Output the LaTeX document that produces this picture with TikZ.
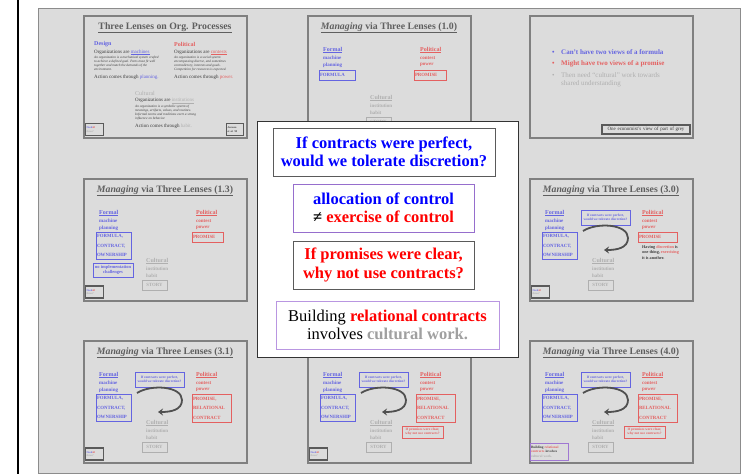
\documentclass[tikz,border=0pt]{standalone}
\usepackage{fontspec}
\setmainfont{Liberation Serif}
\usetikzlibrary{arrows.meta}
\definecolor{bgGrey}{RGB}{220,220,220}
\definecolor{outerLine}{RGB}{140,140,140}
\definecolor{frameGrey}{RGB}{128,128,128}
\definecolor{boxDark}{RGB}{90,90,90}
\definecolor{tBlue}{RGB}{100,100,225}
\definecolor{tRed}{RGB}{228,96,96}
\definecolor{tLight}{RGB}{175,175,175}
\definecolor{tTitle}{RGB}{95,95,95}
\definecolor{tDark}{RGB}{60,60,60}
\definecolor{tPurple}{RGB}{160,120,210}
\definecolor{arrowGrey}{RGB}{80,80,80}
\definecolor{ovBlue}{RGB}{0,0,255}
\definecolor{ovRed}{RGB}{255,0,0}
\definecolor{ovGrey}{RGB}{160,160,160}
\definecolor{ovPurple}{RGB}{150,110,205}
\definecolor{ovPurpleLight}{RGB}{185,150,225}
\newcommand{\fsz}[2]{\fontsize{#1}{#2}\selectfont}
\tikzset{
  slideframe/.style={draw=frameGrey, line width=1.5pt, fill=bgGrey, minimum width=163pt, minimum height=122pt, inner sep=0pt, anchor=north west},
  lenstitle/.style={inner sep=0pt, text=tTitle, font=\fsz{9.8}{11}\bfseries},
  lbl/.style={anchor=west, inner sep=0pt, font=\fsz{5}{6}\bfseries},
  head/.style={anchor=west, inner sep=0pt, font=\fsz{6}{7}\bfseries},
  plain/.style={anchor=west, inner sep=0pt, font=\fsz{5}{6}, text=tDark},
  para/.style={anchor=north west, inner sep=0pt, align=left, font=\fsz{3.4}{3.8}\itshape, text=tDark},
  tbox/.style={draw, line width=0.9pt, inner sep=1pt, font=\fsz{4.8}{9.5}\bfseries, align=left},
  needbox/.style={draw=boxDark, line width=1.3pt, text width=16pt, minimum height=12pt, inner sep=1pt, font=\fsz{2.7}{3.3}\bfseries, align=left},
  curvearrow/.style={draw=arrowGrey, line width=1.8pt, -{Stealth[length=5pt,width=7pt]}},
  ovbox/.style={draw, line width=0.9pt, inner sep=0pt, align=center, font=\fsz{16.5}{18.5}\bfseries},
  bullet/.style={anchor=west, inner sep=0pt, font=\fsz{7}{8}\bfseries},
}
\newcommand{\LensCols}[1]{%
  \node[slideframe] (frame) at (0,0) {};
  \node[lenstitle] (title) at (82,12.7) {\underline{\textit{Managing} via Three Lenses (#1)}};
  \node[head, text=tBlue] (formal) at (16,35) {\underline{Formal}};
  \node[lbl, text=tBlue] (machine) at (16,43) {machine};
  \node[lbl, text=tBlue] (planning) at (16,50) {planning};
  \node[head, text=tRed] (political) at (113,35) {\underline{Political}};
  \node[lbl, text=tRed] (contest) at (113,43) {contest};
  \node[lbl, text=tRed] (power) at (113,50) {power};
  \node[head, text=tLight] (cultural) at (63,83) {\underline{Cultural}};
  \node[lbl, text=tLight] (institution) at (63,90.5) {institution};
  \node[lbl, text=tLight] (habit) at (63,97.5) {habit};
  \node[tbox, draw=tLight, text=tLight, minimum width=25pt, minimum height=10pt, align=center] (story) at (71.5,107) {STORY};
}
\newcommand{\NeedAll}{\node[needbox] (need) at (11.5,114) {\textcolor{tBlue}{Need}\textcolor{tRed}{all}\\\textcolor{tLight}{three?}};}
\newcommand{\FormulaThree}{\node[tbox, draw=tBlue, text=tBlue, text width=33pt, minimum height=27pt] (formula) at (30.5,67.5) {FORMULA,\\CONTRACT,\\OWNERSHIP};}
\newcommand{\PerfectBox}{\node[tbox, draw=tBlue, text=tBlue, minimum width=49pt, minimum height=15pt, align=center, font=\fsz{3.5}{4.2}\bfseries] (perfect) at (76.5,39.5) {If contracts were perfect,\\would we tolerate discretion?};}
\newcommand{\CurveArrow}{%
  \coordinate (arrS) at (54,53);
  \coordinate (arrE) at (75,72);
  \draw[curvearrow] (arrS) .. controls (68,44) and (99,46) .. (99,60) .. controls (99,70) and (88,72) .. (arrE);
}
\newcommand{\PromiseThree}{\node[tbox, draw=tRed, text=tRed, text width=37pt, minimum height=28pt] (promise) at (128.5,68) {PROMISE,\\RELATIONAL\\CONTRACT};}
\newcommand{\ClearBox}{\node[tbox, draw=tRed, text=tRed, minimum width=41pt, minimum height=12pt, align=center, font=\fsz{3.5}{4.2}\bfseries] (clear) at (115.5,92) {If promises were clear,\\why not use contracts?};}
\begin{document}
\begin{tikzpicture}[x=1pt,y=-1pt]
\useasboundingbox (0,0) rectangle (751,474);
\fill[white] (0,0) rectangle (751,474);
\draw[line width=2.4pt] (18,0) -- (18,474);
\draw[draw=outerLine, fill=bgGrey, line width=0.8pt] (38,8) rectangle (740,473);

% Slide A: Three Lenses
\begin{scope}[shift={(83,15)}, name prefix=A-]
  \node[slideframe] (frame) at (0,0) {};
  \node[lenstitle] (title) at (82,12.7) {\underline{Three Lenses on Org. Processes}};
  \node[head, text=tBlue] (design) at (11,29) {Design};
  \node[plain] (dorg) at (11,37.5) {Organizations are \textcolor{tBlue}{\underline{machines}}};
  \node[para] (dpara) at (11,41.2) {An organization is a mechanical system crafted\\to achieve a defined goal. Parts must fit well\\together and match the demands of the\\environment.};
  \node[plain] (dact) at (11,62) {Action comes through \textcolor{tBlue}{planning.}};
  \node[head, text=tRed] (polit) at (91,29) {Political};
  \node[plain] (porg) at (91,37.5) {Organizations are \textcolor{tRed}{\underline{contests}}};
  \node[para] (ppara) at (91,41.2) {An organization is a social system\\encompassing diverse, and sometimes\\contradictory, interests and goals.\\Competition for resources is expected.};
  \node[plain] (pact) at (91,62) {Action comes through \textcolor{tRed}{power.}};
  \node[head, font=\fsz{6}{7}, text=tLight] (cult) at (52,78) {Cultural};
  \node[plain] (corg) at (52,86) {Organizations are \textcolor{tLight}{\underline{institutions}}};
  \node[para] (cpara) at (52,89.8) {An organization is a symbolic system of\\meanings, artifacts, values, and routines.\\[1pt]Informal norms and traditions exert a strong\\influence on behavior.};
  \node[plain] (cact) at (52,111) {Action comes through \textcolor{tLight}{habit.}};
  \node[needbox] (need) at (11.5,114.5) {\textcolor{tBlue}{Need}\textcolor{tRed}{all}\\\textcolor{tLight}{three?}};
  \node[needbox, text width=15pt, text=tDark] (ref) at (152,114.5) {Ancona\\et al. 99};
\end{scope}

% Slide B: 1.0
\begin{scope}[shift={(307,15)}, name prefix=B-]
  \LensCols{1.0}
  \node[tbox, draw=tBlue, text=tBlue, text width=34pt, minimum height=10pt] (formula) at (30,60) {FORMULA};
  \node[tbox, draw=tRed, text=tRed, text width=30pt, minimum height=10pt] (promise) at (123,60) {PROMISE};
\end{scope}

% Slide C: bullets
\begin{scope}[shift={(529,15)}, name prefix=C-]
  \node[slideframe] (frame) at (0,0) {};
  \node[bullet, text=tBlue] (b1) at (23,37) {\makebox[9pt][l]{\textbullet}Can't have two views of a formula};
  \node[bullet, text=tRed] (b2) at (23,49) {\makebox[9pt][l]{\textbullet}Might have two views of a promise};
  \node[bullet, font=\fsz{7}{8}, text=tLight, anchor=north west, align=left] (b3) at (23,57.5) {\makebox[9pt][l]{\textbullet}Then need ``cultural'' work towards\\\hspace*{9pt}shared understanding};
  \node[needbox, text width=86pt, minimum height=9pt, font=\fsz{5}{6}, text=tDark, align=center] (econ) at (117,114.5) {One economist's view of part of grey};
\end{scope}

% Slide D: 1.3
\begin{scope}[shift={(83,178)}, name prefix=D-]
  \LensCols{1.3}
  \FormulaThree
  \node[tbox, draw=tBlue, text=tBlue, minimum width=40pt, minimum height=14pt, inner sep=0.5pt, align=center, font=\fsz{4.5}{5.2}\bfseries] (noimpl) at (30,92) {no implementation\\challenges};
  \node[tbox, draw=tRed, text=tRed, text width=29pt, minimum height=10pt] (promise) at (124.5,59) {PROMISE};
  \NeedAll
\end{scope}

% Slide E: 3.0
\begin{scope}[shift={(529,178)}, name prefix=E-]
  \LensCols{3.0}
  \FormulaThree
  \PerfectBox
  \CurveArrow
  \node[tbox, draw=tRed, text=tRed, text width=37pt, minimum height=10pt] (promise) at (128.5,59) {PROMISE};
  \node[para, font=\fsz{4.2}{5.8}\bfseries] (having) at (113,67) {Having \textcolor{tRed}{discretion} is\\one thing, \textcolor{tRed}{exercising}\\it is another.};
  \NeedAll
\end{scope}

% Slide F: 3.1
\begin{scope}[shift={(83,340)}, name prefix=F-]
  \LensCols{3.1}
  \FormulaThree
  \PerfectBox
  \CurveArrow
  \PromiseThree
  \NeedAll
\end{scope}

% Slide G: 3.2
\begin{scope}[shift={(307,340)}, name prefix=G-]
  \LensCols{3.2}
  \FormulaThree
  \PerfectBox
  \CurveArrow
  \PromiseThree
  \ClearBox
  \NeedAll
\end{scope}

% Slide H: 4.0
\begin{scope}[shift={(529,340)}, name prefix=H-]
  \LensCols{4.0}
  \FormulaThree
  \PerfectBox
  \CurveArrow
  \PromiseThree
  \ClearBox
  \node[needbox, draw=tPurple, line width=1pt, text width=36pt, minimum height=17pt, font=\fsz{3.4}{4.6}\bfseries, text=tDark] (build) at (20,111.5) {Building \textcolor{tRed}{relational}\\\textcolor{tRed}{contracts} involves\\\textcolor{tLight}{cultural work.}};
\end{scope}

% Overlay
\node[draw=black!80, line width=0.8pt, fill=white, minimum width=261pt, minimum height=236pt, inner sep=0pt] (overlay) at (387.5,239) {};
\node[ovbox, draw=boxDark, minimum width=222pt, minimum height=48pt, text=ovBlue] (q1) at (384,152) {If contracts were perfect,\\would we tolerate discretion?};
\node[ovbox, draw=ovPurple, minimum width=181pt, minimum height=48pt] (q2) at (383.5,208) {\textcolor{ovBlue}{allocation of control}\\≠ \textcolor{ovRed}{exercise of control}};
\node[ovbox, draw=boxDark, minimum width=181pt, minimum height=48pt, text=ovRed] (q3) at (383.5,265) {If promises were clear,\\why not use contracts?};
\node[ovbox, draw=ovPurpleLight, minimum width=223pt, minimum height=48pt] (q4) at (387.5,325) {\textmd{Building} \textcolor{ovRed}{relational contracts}\\\textmd{involves} \textcolor{ovGrey}{cultural work.}};
\end{tikzpicture}
\end{document}
